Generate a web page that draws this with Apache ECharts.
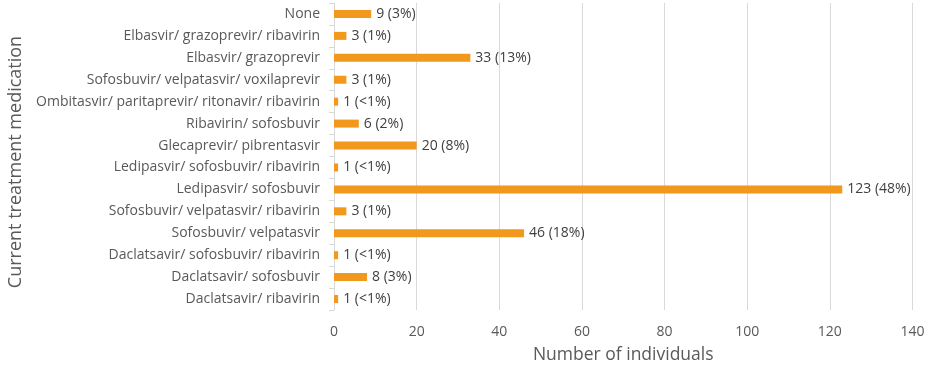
<!DOCTYPE html>
<html>
<head>
<meta charset="utf-8">
<script src="https://cdn.jsdelivr.net/npm/echarts@6/dist/echarts.min.js"></script>
<style>html,body{margin:0;padding:0;background:#fff}#c{width:931px;height:372px}</style>
</head>
<body>
<div id="c"></div>
<script>
const categories = [
  "None",
  "Elbasvir/ grazoprevir/ ribavirin",
  "Elbasvir/ grazoprevir",
  "Sofosbuvir/ velpatasvir/ voxilaprevir",
  "Ombitasvir/ paritaprevir/ ritonavir/ ribavirin",
  "Ribavirin/ sofosbuvir",
  "Glecaprevir/ pibrentasvir",
  "Ledipasvir/ sofosbuvir/ ribavirin",
  "Ledipasvir/ sofosbuvir",
  "Sofosbuvir/ velpatasvir/ ribavirin",
  "Sofosbuvir/ velpatasvir",
  "Daclatsavir/ sofosbuvir/ ribavirin",
  "Daclatsavir/ sofosbuvir",
  "Daclatsavir/ ribavirin"
];
const counts = [9, 3, 33, 3, 1, 6, 20, 1, 123, 3, 46, 1, 8, 1];
const percents = ["3%", "1%", "13%", "1%", "<1%", "2%", "8%", "<1%", "48%", "1%", "18%", "<1%", "3%", "<1%"];

const font = "'Open Sans', sans-serif";
const chart = echarts.init(document.getElementById('c'));
chart.setOption({
  animation: false,
  grid: { left: 334, right: 18.5, top: 3, bottom: 62, containLabel: false, outerBoundsMode: 'none' },
  xAxis: {
    type: 'value', min: 0, max: 140, interval: 20,
    name: 'Number of individuals', nameLocation: 'middle', nameGap: 36,
    nameTextStyle: { fontFamily: font, fontSize: 17.5, color: '#595959' },
    axisLine: { show: false }, axisTick: { show: false },
    axisLabel: { fontFamily: font, fontSize: 14, color: '#595959', margin: 15 },
    splitLine: { lineStyle: { color: '#d9d9d9', width: 1 } }
  },
  yAxis: {
    type: 'category', data: categories, inverse: true,
    name: 'Current treatment medication', nameLocation: 'middle', nameGap: 305,
    nameTextStyle: { fontFamily: font, fontSize: 18, color: '#595959', padding: [0, 11, 0, 0] },
    axisLine: { show: true, lineStyle: { color: '#d9d9d9' } },
    axisTick: { show: true, length: 5, lineStyle: { color: '#d9d9d9' } },
    axisLabel: { fontFamily: font, fontSize: 14, color: '#595959', margin: 14 }
  },
  series: [{
    type: 'bar',
    data: counts,
    barWidth: 8,
    itemStyle: { color: '#F2981D' },
    label: {
      show: true, position: 'right', distance: 5,
      fontFamily: font, fontSize: 14, color: '#404040',
      formatter: p => counts[p.dataIndex] + ' (' + percents[p.dataIndex] + ')'
    }
  }]
});
</script>
</body>
</html>
